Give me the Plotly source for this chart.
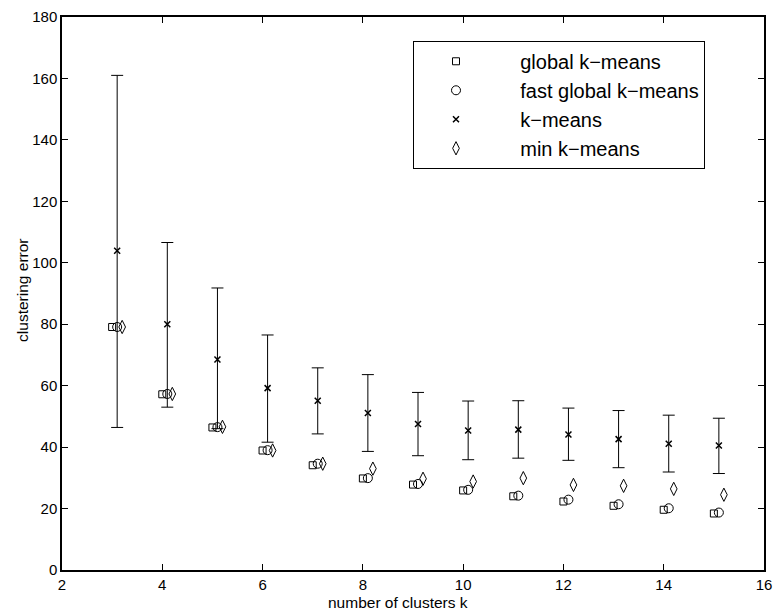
import plotly.graph_objects as go

k = [3, 4, 5, 6, 7, 8, 9, 10, 11, 12, 13, 14, 15]
global_km = [79.1, 57.2, 46.4, 38.9, 34.1, 29.8, 27.8, 25.9, 24.0, 22.3, 20.9, 19.6, 18.4]
fast_global_km = [79.1, 57.3, 46.5, 39.0, 34.6, 29.9, 28.0, 26.1, 24.2, 22.9, 21.4, 20.1, 18.7]
kmeans_mean = [103.9, 80.0, 68.5, 59.2, 55.1, 51.1, 47.5, 45.4, 45.7, 44.1, 42.6, 41.1, 40.5]
kmeans_upper = [161.0, 106.6, 91.8, 76.5, 65.8, 63.6, 57.8, 55.0, 55.1, 52.7, 51.9, 50.4, 49.4]
kmeans_lower = [46.4, 53.0, 46.0, 41.6, 44.3, 38.6, 37.2, 35.9, 36.4, 35.7, 33.3, 31.9, 31.4]
min_km = [79.1, 57.3, 46.6, 38.9, 34.6, 33.0, 29.7, 28.8, 29.9, 27.7, 27.4, 26.4, 24.5]

names = ["global k\u2212means", "fast global k\u2212means", "k\u2212means", "min k\u2212means"]
x_ticks = [2, 4, 6, 8, 10, 12, 14, 16]
y_ticks = [0, 20, 40, 60, 80, 100, 120, 140, 160, 180]

FONT = "Liberation Sans, Arial, Helvetica, sans-serif"
PAD = "\u00a0" * 4  # extra gap between legend symbol and text

x_sq = [v for v in k]
x_ci = [v + 0.1 for v in k]
x_km = [v + 0.1 for v in k]
x_di = [v + 0.2 for v in k]

err_plus = [u - m for u, m in zip(kmeans_upper, kmeans_mean)]
err_minus = [m - l for m, l in zip(kmeans_mean, kmeans_lower)]

fig = go.Figure()
fig.add_trace(go.Scatter(
    x=x_sq, y=global_km, mode="markers", name=PAD + names[0],
    marker=dict(symbol="square-open", size=7, color="black", line=dict(width=1, color="black")),
))
fig.add_trace(go.Scatter(
    x=x_ci, y=fast_global_km, mode="markers", name=PAD + names[1],
    marker=dict(symbol="circle-open", size=9, color="black", line=dict(width=1, color="black")),
))
fig.add_trace(go.Scatter(
    x=x_km, y=kmeans_mean, mode="markers", name=PAD + names[2],
    marker=dict(symbol="x-thin-open", size=6, color="black", line=dict(width=1.5, color="black")),
    error_y=dict(type="data", symmetric=False, array=err_plus, arrayminus=err_minus,
                 color="black", thickness=1, width=6),
))
fig.add_trace(go.Scatter(
    x=x_di, y=min_km, mode="markers", name=PAD + names[3],
    marker=dict(symbol="diamond-tall-open", size=9.5, color="black", line=dict(width=1, color="black")),
))

axis_common = dict(
    showline=True, linecolor="black", linewidth=1.5, mirror="ticks",
    ticks="inside", ticklen=6, tickwidth=1, tickcolor="black",
    showgrid=False, zeroline=False, automargin=False,
    tickfont=dict(family=FONT, size=15, color="black"),
)

fig.update_xaxes(range=[2, 16], tickmode="array", tickvals=x_ticks,
                 ticktext=[str(v) for v in x_ticks], **axis_common)
fig.update_yaxes(range=[0, 180], tickmode="array", tickvals=y_ticks,
                 ticktext=[str(v) for v in y_ticks], **axis_common)

fig.add_annotation(text="number of clusters k", xref="paper", yref="paper",
                   x=0.4786, y=-0.04, xanchor="center", yanchor="top", showarrow=False,
                   font=dict(family=FONT, size=15.5, color="black"))
fig.add_annotation(text="clustering error", xref="paper", yref="paper",
                   x=-0.0574, y=0.506, xanchor="center", yanchor="middle", textangle=-90,
                   showarrow=False, font=dict(family=FONT, size=15.5, color="black"))

fig.update_layout(
    width=776, height=616,
    margin=dict(l=62, r=12, t=17, b=46, autoexpand=False),
    paper_bgcolor="white", plot_bgcolor="white",
    showlegend=True,
    legend=dict(
        x=0.5, y=0.957, xanchor="left", yanchor="top",
        bgcolor="white", bordercolor="black", borderwidth=1,
        font=dict(family=FONT, size=20, color="black"),
        itemwidth=74,
    ),
)

fig.write_html("out.html", config={"displayModeBar": False},
               post_script="document.body.style.margin='0';document.body.style.overflow='hidden';")
